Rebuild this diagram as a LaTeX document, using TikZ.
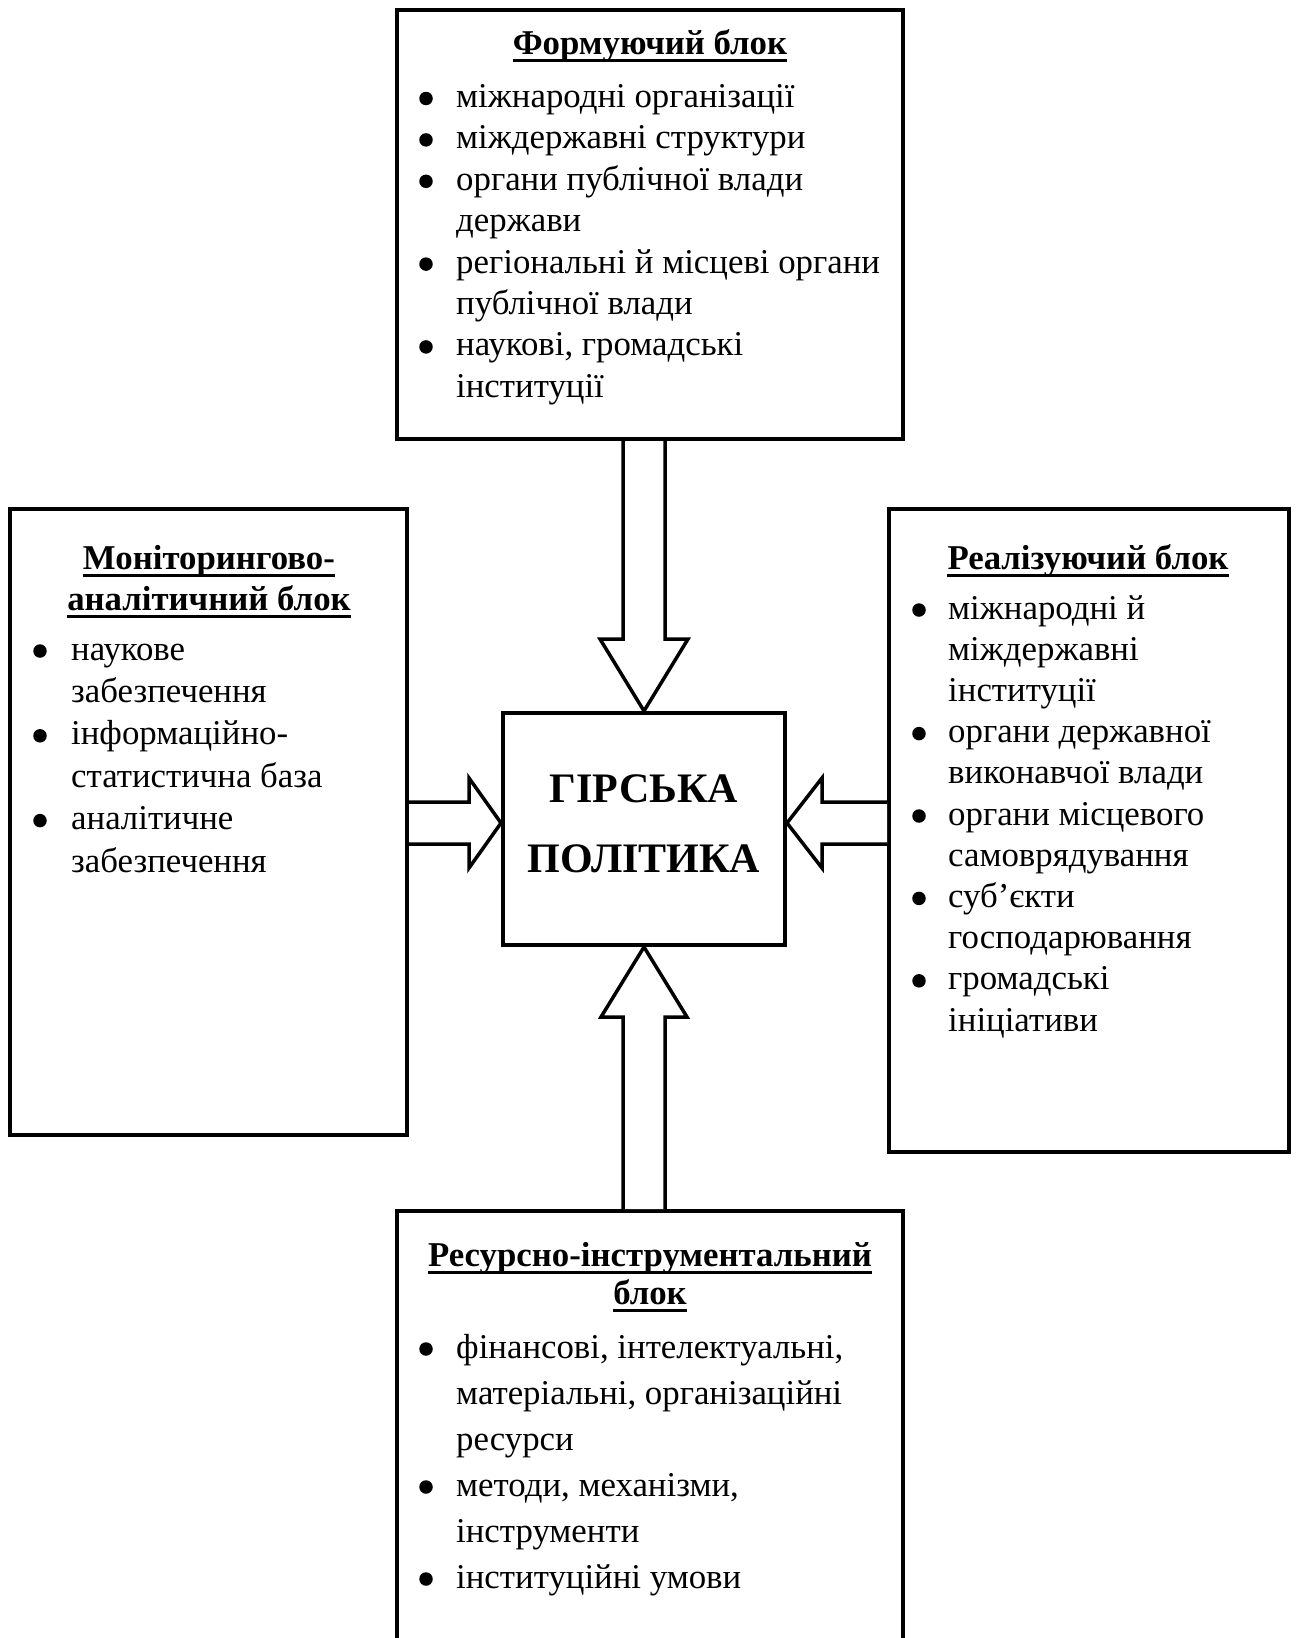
\documentclass[tikz,border=0pt]{standalone}
\usepackage{fontspec}
\setmainfont{Liberation Serif}
\usetikzlibrary{calc}
\newcommand\bodyfont{\fontsize{34.8}{41.4}\selectfont}
\newcommand\bigfont{\fontsize{42}{70}\selectfont}
\tikzset{
  box/.style={draw, line width=4, inner sep=0, rectangle},
  dot/.style={circle, fill=black, draw=none, inner sep=0, minimum size=13.5},
  lin/.style={anchor=base west, inner sep=0, font=\bodyfont},
  ttl/.style={anchor=base, inner sep=0, font=\bodyfont\bfseries},
  ul/.style={line width=3},
  blk/.style={draw, line width=3.5, fill=white, line join=miter, miter limit=20},
}
\newcommand\bul[3]{\node[dot] (#1) at (#2,#3-9) {};}
\newcommand\lin[4]{\node[lin] (#1) at (#2,#3) {#4};}
\newcommand\ttl[4]{\node[ttl] (#1) at (#2,#3) {#4};
  \draw[ul] ($(#1.base west)+(0,6)$) -- ($(#1.base east)+(0,6)$);}
\begin{document}
\begin{tikzpicture}[x=1pt,y=-1pt]
\useasboundingbox (0,0) rectangle (1296,1638);
% boxes
\node[box, minimum width=506, minimum height=429] (top) at (650,224.5) {};
\node[box, minimum width=282, minimum height=232] (ctr) at (644,829) {};
\node[box, minimum width=397, minimum height=626] (lft) at (208.5,822) {};
\node[box, minimum width=400, minimum height=643] (rgt) at (1089,830.5) {};
\node[box, minimum width=506, minimum height=489] (bot) at (650,1455.5) {};
% centre text
\node[anchor=base, inner sep=0, font=\bigfont\bfseries] (c1) at (644,802) {ГІРСЬКА};
\node[anchor=base, inner sep=0, font=\bigfont\bfseries] (c2) at (644,872) {ПОЛІТИКА};
% top box
\ttl{tt}{650}{54}{Формуючий блок}
\bul{tb1}{426}{107.5}\lin{tl1}{456}{107.5}{міжнародні організації}
\bul{tb2}{426}{148.9}\lin{tl2}{456}{148.9}{міждержавні структури}
\bul{tb3}{426}{190.3}\lin{tl3}{456}{190.3}{органи публічної влади}
\lin{tl4}{456}{231.7}{держави}
\bul{tb5}{426}{273.1}\lin{tl5}{456}{273.1}{регіональні й місцеві органи}
\lin{tl6}{456}{314.5}{публічної влади}
\bul{tb7}{426}{355.9}\lin{tl7}{456}{355.9}{наукові, громадські}
\lin{tl8}{456}{397.3}{інституції}
% left box
\ttl{lt1}{209}{569}{Моніторингово-}
\ttl{lt2}{209}{610}{аналітичний блок}
\bul{lb1}{40}{660}\lin{ll1}{71}{660}{наукове}
\lin{ll2}{71}{702.4}{забезпечення}
\bul{lb3}{40}{744.8}\lin{ll3}{71}{744.8}{інформаційно-}
\lin{ll4}{71}{787.2}{статистична база}
\bul{lb5}{40}{829.6}\lin{ll5}{71}{829.6}{аналітичне}
\lin{ll6}{71}{872}{забезпечення}
% right box
\ttl{rt}{1088}{569}{Реалізуючий блок}
\bul{rb1}{919}{619}\lin{rl1}{948}{619}{міжнародні й}
\lin{rl2}{948}{660.2}{міждержавні}
\lin{rl3}{948}{701.4}{інституції}
\bul{rb4}{919}{742.6}\lin{rl4}{948}{742.6}{органи державної}
\lin{rl5}{948}{783.8}{виконавчої влади}
\bul{rb6}{919}{825}\lin{rl6}{948}{825}{органи місцевого}
\lin{rl7}{948}{866.2}{самоврядування}
\bul{rb8}{919}{907.4}\lin{rl8}{948}{907.4}{суб’єкти}
\lin{rl9}{948}{948.6}{господарювання}
\bul{rb10}{919}{989.8}\lin{rl10}{948}{989.8}{громадські}
\lin{rl11}{948}{1031}{ініціативи}
% bottom box
\ttl{bt1}{650}{1266}{Ресурсно-інструментальний}
\ttl{bt2}{650}{1304}{блок}
\bul{bb1}{426}{1358}\lin{bl1}{456}{1358}{фінансові, інтелектуальні,}
\lin{bl2}{456}{1404}{матеріальні, організаційні}
\lin{bl3}{456}{1450}{ресурси}
\bul{bb4}{426}{1496}\lin{bl4}{456}{1496}{методи, механізми,}
\lin{bl5}{456}{1542}{інструменти}
\bul{bb6}{426}{1588}\lin{bl6}{456}{1588}{інституційні умови}
% block arrows
\path (ctr.north) ++(-21,-72) coordinate (t1) ++(-23,0) coordinate (t2);
\path (ctr.north) ++(21,-72) coordinate (t4) ++(23,0) coordinate (t3);
\draw[blk] (t1 |- top.south) -- (t1) -- (t2) -- (ctr.north) -- (t3) -- (t4) -- (t4 |- top.south);
\path (ctr.south) ++(-21,70) coordinate (b1) ++(-22,0) coordinate (b2);
\path (ctr.south) ++(21,70) coordinate (b4) ++(22,0) coordinate (b3);
\draw[blk] (b1 |- bot.north) -- (b1) -- (b2) -- (ctr.south) -- (b3) -- (b4) -- (b4 |- bot.north);
\coordinate (lt) at ($(ctr.west)+(0,-6)$);
\coordinate (rtp) at ($(ctr.east)+(0,-6)$);
\path (lt) ++(-32,-21) coordinate (l1) ++(0,-24) coordinate (l2);
\path (lt) ++(-32,21) coordinate (l4) ++(0,24) coordinate (l3);
\draw[blk] (l1 -| lft.east) -- (l1) -- (l2) -- (lt) -- (l3) -- (l4) -- (l4 -| lft.east);
\path (rtp) ++(35,-21) coordinate (r1) ++(0,-24) coordinate (r2);
\path (rtp) ++(35,21) coordinate (r4) ++(0,24) coordinate (r3);
\draw[blk] (r1 -| rgt.west) -- (r1) -- (r2) -- (rtp) -- (r3) -- (r4) -- (r4 -| rgt.west);
\end{tikzpicture}
\end{document}
